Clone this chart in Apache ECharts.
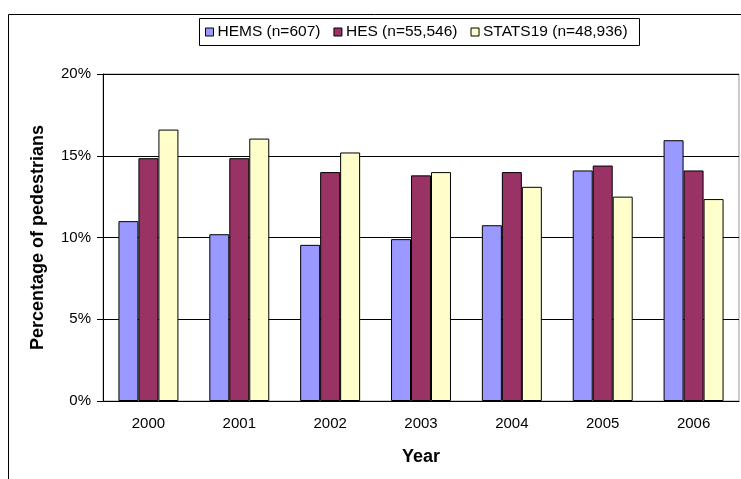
<!DOCTYPE html>
<html>
<head>
<meta charset="utf-8">
<script src="https://cdn.jsdelivr.net/npm/echarts@6/dist/echarts.min.js"></script>
<style>
html, body { margin: 0; padding: 0; background: #fff; }
#chart { width: 741px; height: 479px; }
</style>
</head>
<body>
<div id="chart"></div>
<script>
var years = ['2000', '2001', '2002', '2003', '2004', '2005', '2006'];
var hems = [11.0, 10.2, 9.55, 9.9, 10.75, 14.1, 15.95];
var hes = [14.85, 14.85, 14.0, 13.8, 14.0, 14.4, 14.1];
var stats19 = [16.6, 16.05, 15.2, 14.0, 13.1, 12.5, 12.35];

var myChart = echarts.init(document.getElementById('chart'));

function barSeries(name, data, color) {
    return {
        name: name,
        type: 'bar',
        data: data,
        barGap: 0,
        barCategoryGap: '34%',
        itemStyle: { color: color, borderColor: '#000', borderWidth: 1 }
    };
}

var option = {
    animation: false,
    textStyle: { fontFamily: 'Liberation Sans, Arial, sans-serif' },
    graphic: [
        // outer frame, only left and top edges show in the picture
        { type: 'line', shape: { x1: 8.5, y1: 14.5, x2: 8.5, y2: 479 }, style: { stroke: '#000', lineWidth: 1 } },
        { type: 'line', shape: { x1: 8.5, y1: 14.5, x2: 741, y2: 14.5 }, style: { stroke: '#000', lineWidth: 1 } },
        // legend frame
        { type: 'rect', shape: { x: 199.5, y: 18.5, width: 440, height: 27 }, style: { fill: 'none', stroke: '#000', lineWidth: 1 } }
    ],
    legend: {
        top: 24,
        left: 205,
        icon: 'rect',
        itemWidth: 8,
        itemHeight: 8,
        itemGap: 13,
        padding: 0,
        itemStyle: { borderColor: '#000', borderWidth: 1 },
        textStyle: { fontSize: 15.5, color: '#000', padding: [0, 0, 0, -1] },
        data: ['HEMS (n=607)', 'HES (n=55,546)', 'STATS19 (n=48,936)']
    },
    grid: {
        left: 103, right: 2, top: 74, bottom: 78,
        show: true, borderColor: '#999', borderWidth: 1
    },
    xAxis: {
        type: 'category',
        data: years,
        name: 'Year',
        nameLocation: 'middle',
        nameGap: 47,
        nameTextStyle: { fontSize: 18, fontWeight: 'bold', color: '#000' },
        axisLine: { lineStyle: { color: '#000' } },
        axisTick: { length: 5, lineStyle: { color: '#000' } },
        axisLabel: { fontSize: 15, color: '#000', margin: 15 }
    },
    yAxis: {
        type: 'value',
        min: 0, max: 20, interval: 5,
        name: 'Percentage of pedestrians',
        nameLocation: 'middle',
        nameGap: 56,
        nameTextStyle: { fontSize: 18, fontWeight: 'bold', color: '#000' },
        axisLine: { show: true, lineStyle: { color: '#000' } },
        axisTick: { show: true, length: 6, lineStyle: { color: '#000' } },
        axisLabel: { fontSize: 15, color: '#000', margin: 12, formatter: '{value}%' },
        splitLine: { lineStyle: { color: '#000' } }
    },
    series: [
        barSeries('HEMS (n=607)', hems, '#9999ff'),
        barSeries('HES (n=55,546)', hes, '#993366'),
        barSeries('STATS19 (n=48,936)', stats19, '#ffffcc')
    ]
};

myChart.setOption(option);
</script>
</body>
</html>
